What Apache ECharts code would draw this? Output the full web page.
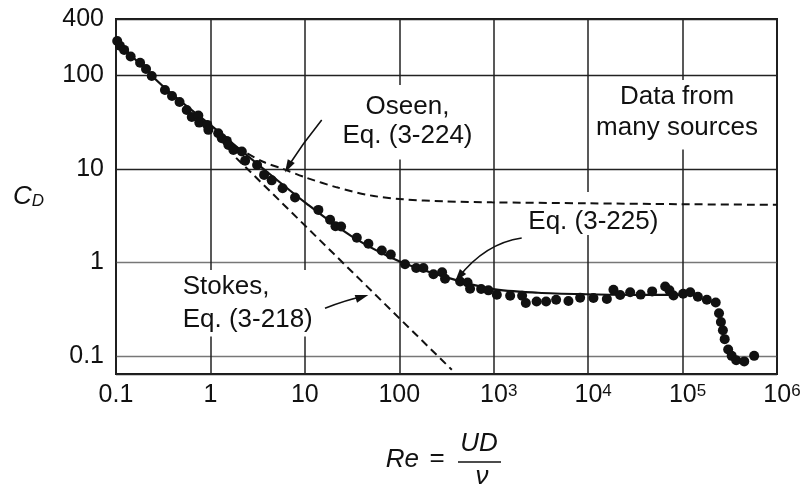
<!DOCTYPE html>
<html>
<head>
<meta charset="utf-8">
<script src="https://cdn.jsdelivr.net/npm/echarts@6/dist/echarts.min.js"></script>
<style>
  html, body { margin: 0; padding: 0; background: #fff; }
  #chart { width: 806px; height: 489px; }
</style>
</head>
<body>
<div id="chart"></div>
<script>
const FONT = '"Liberation Sans", Arial, Helvetica, sans-serif';
const INK = '#111';

// Measured drag coefficients of a sphere, data from many sources
const dataRe = [
  0.103, 0.110, 0.122, 0.143, 0.180, 0.208, 0.239, 0.330, 0.392, 0.471,
  0.561, 0.634, 0.745, 0.762, 0.927, 0.951, 1.21, 1.32, 1.49, 1.55,
  1.75, 2.15, 2.33, 3.12, 3.70, 4.46, 5.81, 7.87, 13.9, 18.5,
  21.1, 24.2, 35.5, 47.1, 65.3, 81.3, 115, 151, 180, 230,
  284, 305, 441, 529, 562, 736, 879, 1079, 1493, 2000,
  2188, 2845, 3589, 4581, 6185, 8225, 11380, 15780, 18540, 21830,
  27860, 35970, 47640, 65460, 72610, 80170, 101400, 120500, 145200, 180700,
  224400, 243200, 254700, 267300, 279300, 304100, 331100, 369800, 449800, 572800
];
const dataCd = [
  233, 207, 187, 159, 136, 117, 98.4, 69.7, 60.1, 51.9,
  42.6, 35.9, 37.2, 31.2, 29.5, 26.1, 24.0, 21.2, 19.9, 18.0,
  15.9, 15.3, 12.2, 11.0, 8.61, 7.53, 6.21, 4.93, 3.64, 2.85,
  2.43, 2.42, 1.83, 1.58, 1.34, 1.21, 0.953, 0.869, 0.869, 0.745,
  0.783, 0.667, 0.624, 0.609, 0.521, 0.518, 0.502, 0.450, 0.440, 0.440,
  0.367, 0.382, 0.382, 0.398, 0.386, 0.418, 0.415, 0.405, 0.509, 0.447,
  0.479, 0.452, 0.489, 0.552, 0.502, 0.442, 0.461, 0.479, 0.429, 0.398,
  0.372, 0.286, 0.230, 0.188, 0.151, 0.117, 0.100, 0.0897, 0.0873, 0.100
];

// Eq. (3-225), solid curve
const fitRe = [0.1, 0.33, 1.06, 3.35, 10.5, 30.8, 97, 305, 955, 2950, 9460, 29200, 91400, 153000];
const fitCd = [239, 73.2, 28.1, 10.7, 4.22, 1.92, 1.04, 0.70, 0.521, 0.473, 0.456, 0.450, 0.450, 0.450];

// Oseen, Eq. (3-224)
const oseenRe = [1.87, 3.61, 5.87, 10.5, 21.8, 49.1, 110, 305, 955, 9460, 91400, 1000000];
const oseenCd = [17.1, 11.9, 9.98, 8.0, 6.34, 5.20, 4.72, 4.49, 4.38, 4.28, 4.19, 4.12];

// Stokes, Eq. (3-218)
const stokesRe = [1.87, 360];
const stokesCd = [13.1, 0.071];

// Axis tick labels
const xTickValues = [0.1, 1, 10, 100, 1e3, 1e4, 1e5, 1e6];
const xTickLabels = ['0.1', '1', '10', '100', '10^3', '10^4', '10^5', '10^6'];
const yTickValues = [0.1, 1, 10, 100, 400];
const yTickLabels = ['0.1', '1', '10', '100', '400'];

const zip = (a, b) => a.map((v, i) => [v, b[i]]);
const findTick = (vals, v) =>
  vals.findIndex(t => Math.abs(Math.log10(v) - Math.log10(t)) < 0.01);

const chart = echarts.init(document.getElementById('chart'), null, { renderer: 'canvas' });

const textBox = (txt, x, y, align, lineHeight, padding) => ({
  type: 'text',
  z: 1,
  style: {
    text: txt, x: x, y: y,
    fontFamily: FONT, fontSize: 26, fill: INK,
    align: align, verticalAlign: 'top',
    lineHeight: lineHeight,
    backgroundColor: '#fff',
    padding: padding
  }
});

const arrowHead = (tip, dir, len, half) => {
  const n = Math.hypot(dir[0], dir[1]);
  const ux = dir[0] / n, uy = dir[1] / n;
  const bx = tip[0] - ux * len, by = tip[1] - uy * len;
  return {
    type: 'polygon', z: 1,
    shape: { points: [tip, [bx - uy * half, by + ux * half], [bx + uy * half, by - ux * half]] },
    style: { fill: INK }
  };
};

const curve = (p0, c, p1) => ({
  type: 'bezierCurve', z: 1,
  shape: { x1: p0[0], y1: p0[1], cpx1: c[0], cpy1: c[1], x2: p1[0], y2: p1[1] },
  style: { stroke: INK, lineWidth: 1.6, fill: null }
});

const option = {
  animation: false,
  backgroundColor: '#fff',
  grid: {
    left: 116, right: 29, top: 19, bottom: 115,
    show: true, borderColor: '#1a1a1a', borderWidth: 2,
    backgroundColor: 'transparent'
  },
  xAxis: {
    type: 'log', logBase: 10, min: 0.1, max: 1e6,
    axisLine: { show: false },
    axisTick: { show: false },
    splitLine: { show: true, lineStyle: { color: '#222', width: 1.5 } },
    axisLabel: {
      margin: 9,
      color: INK, fontFamily: FONT, fontSize: 25,
      formatter: v => {
        const i = findTick(xTickValues, v);
        if (i < 0) return '';
        const s = xTickLabels[i];
        const k = s.indexOf('^');
        return k < 0 ? s : '{pad| }' + s.slice(0, k) + '{sup|' + s.slice(k + 1) + '}';
      },
      rich: {
        pad: { width: 10, fontSize: 17 },
        sup: { fontSize: 17, fontFamily: FONT, color: INK, verticalAlign: 'top', lineHeight: 15 }
      }
    }
  },
  yAxis: {
    type: 'log', logBase: 10, min: 0.064, max: 400,
    axisLine: { show: false },
    axisTick: { show: false },
    splitLine: { show: true, lineStyle: { color: ['#222', '#777', '#777', '#222', '#222', '#222'], width: 1.4 } },
    axisLabel: {
      margin: 12,
      color: INK, fontFamily: FONT, fontSize: 25,
      showMinLabel: false,
      formatter: v => {
        const i = findTick(yTickValues, v);
        return i < 0 ? '' : yTickLabels[i];
      }
    },
    name: '{c|C}{d|D}',
    nameLocation: 'middle',
    nameRotate: 0,
    nameGap: 72,
    nameTextStyle: {
      rich: {
        c: { fontFamily: FONT, fontStyle: 'italic', fontSize: 26, color: INK, lineHeight: 26 },
        d: { fontFamily: FONT, fontStyle: 'italic', fontSize: 17, color: INK, lineHeight: 13, verticalAlign: 'bottom' }
      }
    }
  },
  series: [
    {
      name: 'Oseen', type: 'line', data: zip(oseenRe, oseenCd),
      showSymbol: false, smooth: 0.3, z: 2,
      lineStyle: { color: INK, width: 2, type: [8, 5] }
    },
    {
      name: 'Stokes', type: 'line', data: zip(stokesRe, stokesCd),
      showSymbol: false, z: 2,
      lineStyle: { color: INK, width: 2, type: [8, 5] }
    },
    {
      name: 'Eq. (3-225)', type: 'line', data: zip(fitRe, fitCd),
      showSymbol: false, smooth: 0.3, z: 3,
      lineStyle: { color: INK, width: 2.2 }
    },
    {
      name: 'Data', type: 'scatter', data: zip(dataRe, dataCd),
      symbol: 'circle', symbolSize: 10, z: 4,
      itemStyle: { color: INK, opacity: 1 }
    }
  ],
  graphic: [
    textBox('Oseen,\nEq. (3-224)', 407.5, 85, 'center', 29.3, [7, 6, 9, 6]),
    textBox('Data from\nmany sources', 677, 80, 'center', 31.3, [1, 6, 6, 6]),
    textBox('Eq. (3-225)', 524.3, 192, 'left', 26, [17, 4, 0, 4]),
    textBox('Stokes,\nEq. (3-218)', 180.7, 270, 'left', 33.3, [0, 2, 0, 2]),
    curve([321.7, 120], [303, 143], [287, 168]),
    arrowHead([285, 172.5], [-0.55, 1], 13, 4),
    curve([521.7, 238], [485, 243.3], [458, 278]),
    arrowHead([455, 281.7], [-0.62, 0.79], 13, 4),
    curve([325, 308.3], [346, 300], [364, 296.3]),
    arrowHead([368.3, 295], [0.956, -0.294], 13, 4),
    // x-axis title: Re = UD / nu
    {
      type: 'text', z: 1,
      style: { text: 'Re', x: 419, y: 460, fontFamily: FONT, fontStyle: 'italic', fontSize: 26, fill: INK, align: 'right', verticalAlign: 'middle' }
    },
    {
      type: 'text', z: 1,
      style: { text: '=', x: 437, y: 459, fontFamily: FONT, fontSize: 26, fill: INK, align: 'center', verticalAlign: 'middle' }
    },
    {
      type: 'text', z: 1,
      style: { text: 'UD', x: 479, y: 444, fontFamily: FONT, fontStyle: 'italic', fontSize: 26, fill: INK, align: 'center', verticalAlign: 'middle' }
    },
    {
      type: 'line', z: 1,
      shape: { x1: 458, y1: 462, x2: 501, y2: 462 },
      style: { stroke: INK, lineWidth: 1.6 }
    },
    {
      type: 'text', z: 1,
      style: { text: 'ν', x: 482, y: 477, fontFamily: FONT, fontStyle: 'italic', fontSize: 26, fill: INK, align: 'center', verticalAlign: 'middle' }
    }
  ]
};

chart.setOption(option);
</script>
</body>
</html>
